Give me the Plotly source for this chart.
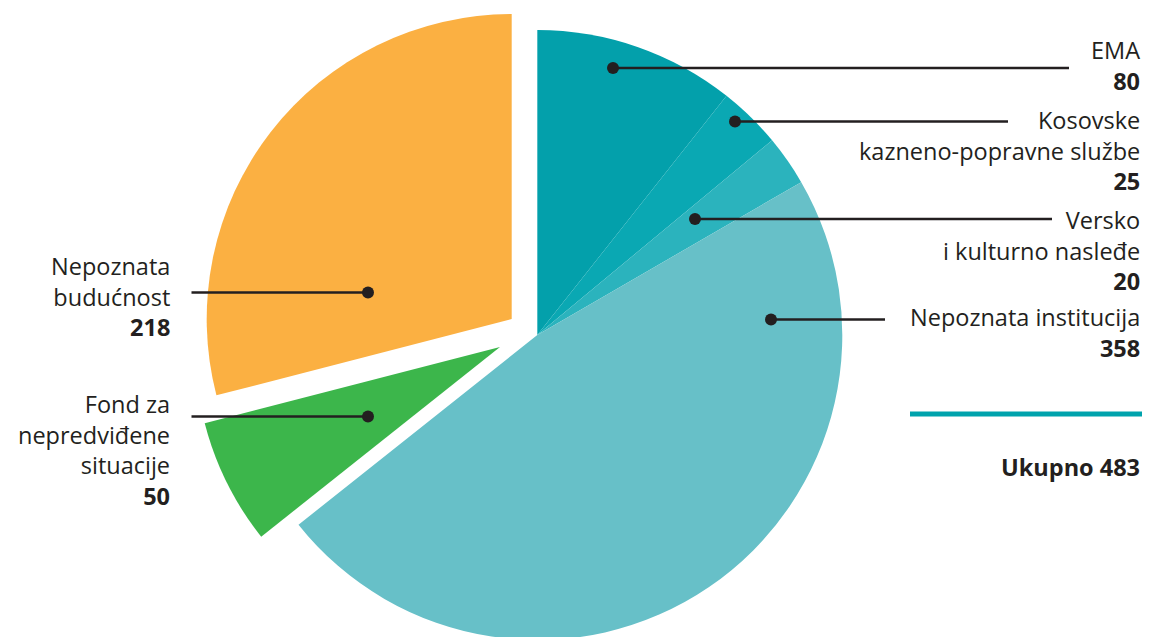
import plotly.graph_objects as go

# ---- data ----
categories = ["EMA", "Kosovske kazneno-popravne službe", "Versko i kulturno nasleđe",
              "Nepoznata institucija", "Fond za nepredviđene situacije", "Nepoznata budućnost"]
values = [80, 25, 20, 358, 50, 218]
label_lines = [["EMA"], ["Kosovske", "kazneno-popravne službe"], ["Versko", "i kulturno nasleđe"],
               ["Nepoznata institucija"], ["Fond za", "nepredviđene", "situacije"],
               ["Nepoznata", "budućnost"]]
colors = ["#03a0ab", "#0aa8b3", "#2bb3bd", "#67c0c8", "#3cb64b", "#fbb042"]
total_label = "Ukupno"
total_value = sum(values[:4])

# ---- layout constants (pixels) ----
W, H = 1160, 660
R = 305
CENTERS = {"main": (537.3, 335.0), "green": (500.0, 347.0), "orange": (511.7, 319.0)}
GROUPS = {"main": [0, 1, 2, 3], "green": [4], "orange": [5]}
TXT = "#231f20"
FONT = "Open Sans"
FS = 23.5


def px(x):
    return x / W


def py(y):
    return 1 - y / H


fig = go.Figure()
for key, idx in GROUPS.items():
    cx, cy = CENTERS[key]
    cols = [colors[i] if i in idx else "rgba(0,0,0,0)" for i in range(len(values))]
    fig.add_trace(go.Pie(
        labels=categories, values=values, sort=False, direction="clockwise", rotation=0,
        marker=dict(colors=cols, line=dict(width=0)), textinfo="none", hoverinfo="skip",
        showlegend=False,
        domain=dict(x=[px(cx - R), px(cx + R)], y=[py(cy + R), py(cy - R)]),
    ))

# leader: (dot x, dot y, line end x, text right x, first text line y, number line y)
LEADERS = [
    (613, 68, 1069, 1142, 51, 81),
    (735, 121.5, 1008, 1142, 122, 180),
    (695, 219, 1052, 1142, 220, 280),
    (771, 319.5, 885, 1142, 318, 347),
    (368, 416.5, 191.5, 172, 405, 494),
    (368, 292.5, 191.5, 172, 268, 326),
]

shapes = []
annotations = []
for i, (dx, dy, ex, tx, ty, ny) in enumerate(LEADERS):
    shapes.append(dict(type="line", xref="paper", yref="paper",
                       x0=px(dx), x1=px(ex), y0=py(dy), y1=py(dy),
                       line=dict(color=TXT, width=2.6)))
    shapes.append(dict(type="circle", xref="paper", yref="paper",
                       x0=px(dx - 6), x1=px(dx + 6), y0=py(dy + 6), y1=py(dy - 6),
                       fillcolor=TXT, line=dict(width=0)))
    text = "<br>".join(label_lines[i] + [f"<b>{values[i]}</b>"])
    annotations.append(dict(text=text, x=px(tx), y=py((ty + ny) / 2),
                            xref="paper", yref="paper", xanchor="right", yanchor="middle",
                            align="right", showarrow=False,
                            font=dict(family=FONT, size=FS, color=TXT)))

# total separator and label
shapes.append(dict(type="line", xref="paper", yref="paper",
                   x0=px(910), x1=px(1142), y0=py(414), y1=py(414),
                   line=dict(color="#00a3ad", width=5)))
annotations.append(dict(text=f"<b>{total_label} {total_value}</b>", x=px(1142), y=py(467),
                        xref="paper", yref="paper", xanchor="right", yanchor="middle",
                        showarrow=False, font=dict(family=FONT, size=FS, color=TXT)))

fig.update_layout(
    width=W, height=H, margin=dict(l=0, r=0, t=0, b=0),
    paper_bgcolor="white", plot_bgcolor="white",
    shapes=shapes, annotations=annotations, showlegend=False,
)

fig.write_html(
    "out.html",
    config={"displayModeBar": False},
    post_script="document.documentElement.style.overflow='hidden';"
                "document.body.style.overflow='hidden';document.body.style.margin='0';",
)
